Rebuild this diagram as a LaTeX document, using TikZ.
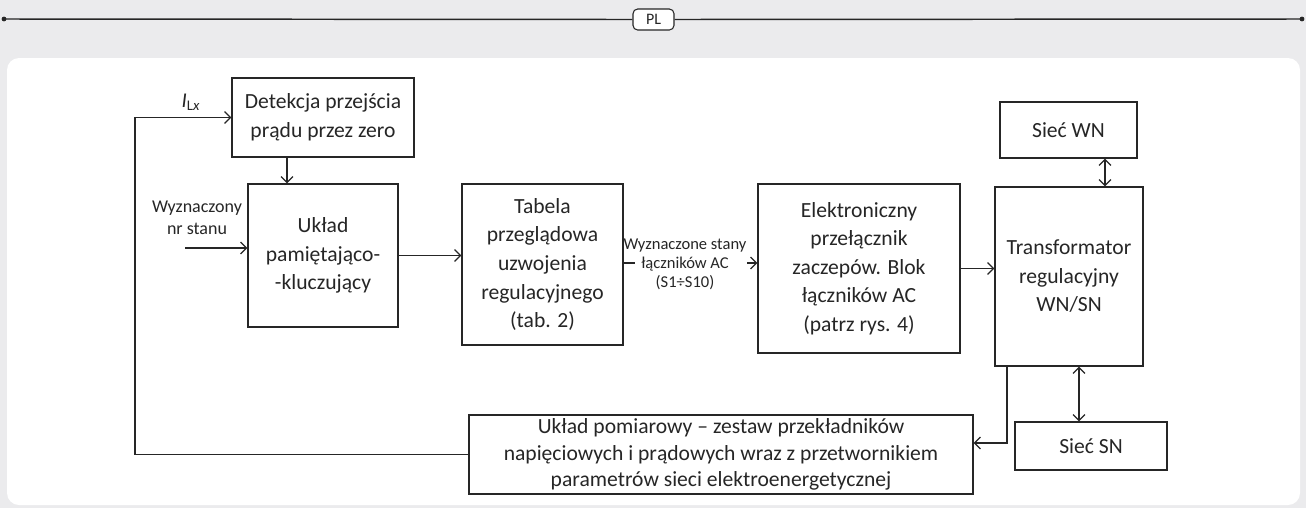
\documentclass[tikz,border=0pt]{standalone}
\usepackage{fontspec}
\setmainfont{Carlito}
\usetikzlibrary{arrows.meta,calc}
\definecolor{bg}{HTML}{EBEBED}
\definecolor{ink}{HTML}{262626}
\tikzset{
  sz/.style 2 args={minimum width=#1*0.75pt, minimum height=#2*0.75pt},
  blk/.style={draw=ink, line width=0.9pt, fill=white, align=center, inner sep=0pt,
    font=\fontsize{16.2}{21.4}\selectfont, text=ink},
  ln/.style={draw=ink, line width=0.9pt},
  arr/.style={ln, -{Straight Barb[length=4.5pt,width=9pt]}},
  darr/.style={ln, {Straight Barb[length=4.5pt,width=9pt]}-{Straight Barb[length=4.5pt,width=9pt]}},
  lab/.style={align=center, text=ink, inner sep=0pt},
}
\begin{document}
\begin{tikzpicture}[x=0.75pt,y=-0.75pt]
\fill[bg] (0,0) rectangle (1306,508);
\useasboundingbox (0,0) rectangle (1306,508);
% header line
\coordinate (ha) at (4,19);
\coordinate (hb) at (1302,19);
\node[draw=ink, fill=white, rounded corners=3.5pt, line width=0.8pt, sz={41}{21}, inner sep=0pt,
  font=\fontsize{12}{12}\selectfont, text=ink] (pl) at (653.5,19.5) {PL};
\draw[ln, line width=1.1pt] (ha) -- (pl.west);
\draw[ln, line width=1.1pt] (pl.east) -- (hb);
\fill[ink] (ha) circle[radius=1.8pt];
\fill[ink] (hb) circle[radius=1.8pt];
% panel
\fill[white, rounded corners=9pt] (7,58) rectangle (1300,505);

% blocks
\node[blk, sz={182}{79}] (det) at (323,117.5) {Detekcja przejścia\\prądu przez zero};
\node[blk, sz={150}{143}] (mem) at (323,255.5) {Układ\\pamiętająco-\\-kluczujący};
\node[blk, sz={161}{161}] (tab) at (542.5,264.5) {Tabela\\przeglądowa\\uzwojenia\\regulacyjnego\\(tab. 2)};
\node[blk, sz={202}{169}] (ele) at (859,268.5) {Elektroniczny\\przełącznik\\zaczepów. Blok\\łączników AC\\(patrz rys. 4)};
\node[blk, sz={148}{179}] (tr) at (1069,276.5) {Transformator\\regulacyjny\\WN/SN};
\node[blk, sz={137}{56}] (wn) at (1068.5,130) {Sieć WN};
\node[blk, sz={152}{48}] (sn) at (1091,446) {Sieć SN};
\node[blk, sz={504}{79}, font=\fontsize{16.2}{19.8}\selectfont] (meas) at (721,454.5) {Układ pomiarowy – zestaw przekładników\\napięciowych i prądowych wraz z przetwornikiem\\parametrów sieci elektroenergetycznej};

% labels
\node[lab, font=\fontsize{15.75}{18}\selectfont] (ilx) at (191,102) {\textit{I}\textsubscript{L\textit{x}}};
\node[lab, font=\fontsize{13.5}{16.5}\selectfont] (wyz) at (197,218) {Wyznaczony\\nr stanu};
\node[lab, font=\fontsize{12.4}{14.3}\selectfont] (lbl) at (685,264) {Wyznaczone stany\\łączników AC\\(S1÷S10)};

% connectors
\draw[arr] ($(det.south)+(-36,0)$) coordinate (d1) -- (d1 |- mem.north);
\coordinate (fb) at (135,300);
\draw[arr] (meas.west) -| (fb) |- (det.west);
\coordinate (in) at (185,248);
\draw[arr] (in) -- (in -| mem.west);
\draw[arr] (mem.east) -- (mem.east -| tab.west);
\coordinate (la) at (635,263);
\coordinate (lb) at (747,263);
\draw[ln] (tab.east |- la) -- (la);
\draw[arr] (lb) -- (lb -| ele.west);
\draw[arr] (ele.east) -- (ele.east -| tr.west);
\draw[darr] ($(wn.south)+(36.5,0)$) coordinate (w1) -- (w1 |- tr.north);
\draw[darr] ($(sn.north)+(-12,0)$) coordinate (s1) -- (s1 |- tr.south);
\coordinate (t1) at ($(tr.south)+(-62,0)$);
\draw[arr] (t1) |- ($(meas.east)+(0,-11.5)$);
\end{tikzpicture}
\end{document}
